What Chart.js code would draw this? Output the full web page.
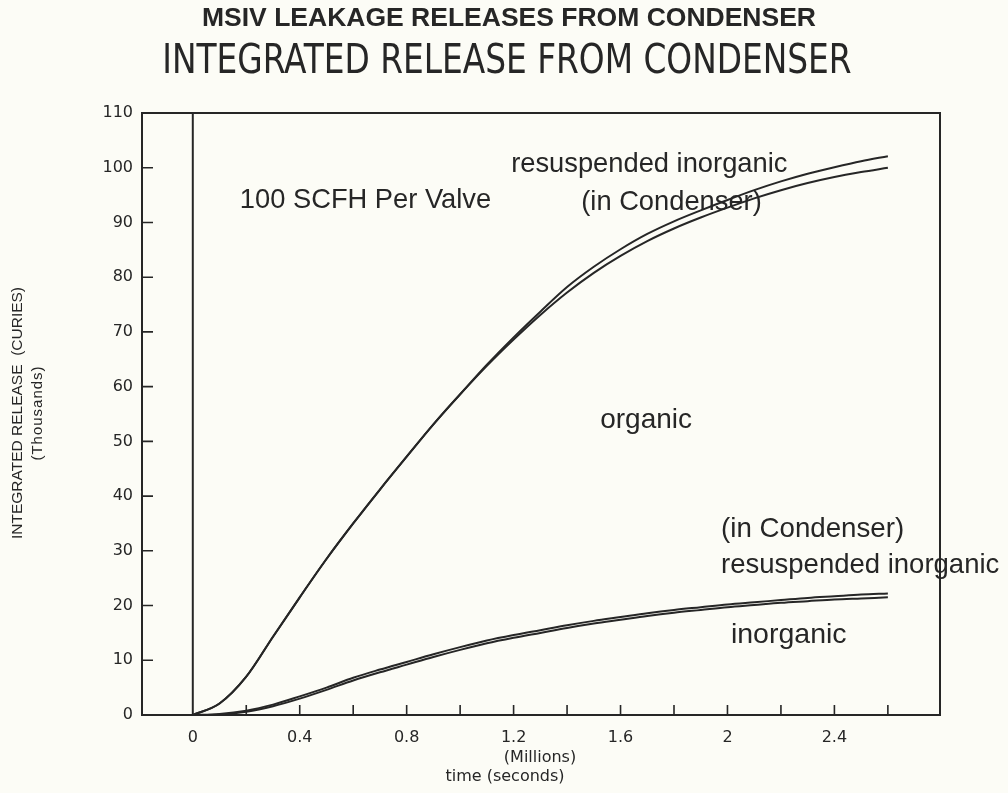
<!DOCTYPE html>
<html>
<head>
<meta charset="utf-8">
<script src="https://cdn.jsdelivr.net/npm/chart.js@4.4.1/dist/chart.umd.min.js"></script>
<style>
  html, body { margin: 0; padding: 0; background: #fcfcf6; }
  #wrap { width: 1008px; height: 793px; position: relative; }
</style>
</head>
<body>
<div id="wrap"><canvas id="c"></canvas></div>
<script>
// ---- data (time in millions of seconds, release in thousands of curies) ----
const timeMillions = [0, 0.1, 0.2, 0.3, 0.4, 0.5, 0.6, 0.7, 0.8, 0.9, 1.0, 1.1, 1.2, 1.3,
  1.4, 1.5, 1.6, 1.7, 1.8, 1.9, 2.0, 2.1, 2.2, 2.3, 2.4, 2.5, 2.6];
const organicWithResuspended = [0, 2.1, 7.0, 14.3, 21.5, 28.5, 35.0, 41.2, 47.2, 53.1, 58.6,
  64.0, 69.0, 73.7, 78.2, 81.9, 85.1, 87.9, 90.2, 92.2, 94.1, 95.9, 97.5, 98.9, 100.1, 101.2, 102.1];
const organic = [0, 2.1, 7.0, 14.3, 21.5, 28.5, 35.0, 41.2, 47.2, 53.1, 58.6,
  63.8, 68.6, 73.1, 77.2, 80.8, 83.9, 86.6, 88.9, 90.9, 92.7, 94.4, 95.9, 97.2, 98.3, 99.2, 100.0];
const inorganicWithResuspended = [0, 0.2, 0.8, 1.9, 3.4, 5.0, 6.8, 8.3, 9.7, 11.1, 12.4,
  13.6, 14.6, 15.5, 16.4, 17.2, 17.9, 18.6, 19.2, 19.7, 20.2, 20.6, 21.0, 21.4, 21.7, 22.0, 22.2];
const inorganic = [0, 0.1, 0.6, 1.6, 3.0, 4.6, 6.3, 7.8, 9.2, 10.6, 11.9,
  13.1, 14.1, 15.0, 15.9, 16.7, 17.4, 18.1, 18.7, 19.2, 19.7, 20.1, 20.5, 20.8, 21.1, 21.3, 21.5];

const xTickValues = [0, 0.2, 0.4, 0.6, 0.8, 1.0, 1.2, 1.4, 1.6, 1.8, 2.0, 2.2, 2.4, 2.6];
const xTickLabels = ['0', '', '0.4', '', '0.8', '', '1.2', '', '1.6', '', '2', '', '2.4', ''];
const yTickValues = [0, 10, 20, 30, 40, 50, 60, 70, 80, 90, 100, 110];

const titleMain = 'MSIV LEAKAGE RELEASES FROM CONDENSER';
const titleSub = 'INTEGRATED RELEASE FROM CONDENSER';
const yTitleLines = ['INTEGRATED RELEASE  (CURIES)', '(Thousands)'];
const xTitleLines = ['(Millions)', 'time (seconds)'];

// annotation texts, placed in data coordinates
const notes = [
  { text: '100 SCFH Per Valve', x: 0.176, y: 94.0, size: 27.3 },
  { text: 'resuspended inorganic', x: 1.191, y: 100.6, size: 27.3 },
  { text: '(in Condenser)', x: 1.453, y: 93.6, size: 27.3 },
  { text: 'organic', x: 1.524, y: 53.9, size: 28 },
  { text: '(in Condenser)', x: 1.976, y: 34.0, size: 27.7 },
  { text: 'resuspended inorganic', x: 1.976, y: 27.4, size: 27.5 },
  { text: 'inorganic', x: 2.013, y: 14.6, size: 28.5 }
];

const ink = '#262626';
const toPoints = (ys) => ys.map((v, i) => ({ x: timeMillions[i], y: v }));

const framePlugin = {
  id: 'frame',
  beforeDatasetsDraw(chart) {
    const { ctx, chartArea: a, scales: { x, y } } = chart;
    ctx.save();
    ctx.strokeStyle = ink;
    ctx.lineWidth = 2;
    ctx.strokeRect(a.left, a.top, a.right - a.left, a.bottom - a.top);
    const x0 = x.getPixelForValue(0);
    ctx.beginPath();
    ctx.moveTo(x0, a.top);
    ctx.lineTo(x0, a.bottom);
    ctx.stroke();
    ctx.lineWidth = 1.6;
    ctx.beginPath();
    xTickValues.forEach(v => {
      if (v === 0) return;
      const px = x.getPixelForValue(v);
      ctx.moveTo(px, a.bottom);
      ctx.lineTo(px, a.bottom - 10);
    });
    yTickValues.forEach(v => {
      if (v === 0 || v === 110) return;
      const py = y.getPixelForValue(v);
      ctx.moveTo(a.left, py);
      ctx.lineTo(a.left + 11, py);
    });
    ctx.stroke();
    ctx.restore();
  },
  afterDraw(chart) {
    const { ctx, chartArea: a, scales: { x, y } } = chart;
    ctx.save();
    ctx.fillStyle = ink;
    ctx.textBaseline = 'middle';
    // titles
    ctx.textAlign = 'center';
    ctx.font = 'bold 26.5px "Liberation Sans", Arial, sans-serif';
    ctx.fillText(titleMain, 509, 19);
    ctx.save();
    ctx.translate(507, 63);
    ctx.scale(0.912, 1);
    ctx.font = '200 40px "DejaVu Sans Condensed", "DejaVu Sans", sans-serif';
    ctx.fillText(titleSub, 0, 0);
    ctx.restore();
    // annotations
    ctx.textAlign = 'left';
    notes.forEach(n => {
      ctx.font = n.size + 'px "Liberation Sans", Arial, sans-serif';
      ctx.fillText(n.text, x.getPixelForValue(n.x), y.getPixelForValue(n.y));
    });
    // x axis title
    ctx.textAlign = 'center';
    ctx.font = '16px "DejaVu Sans", sans-serif';
    ctx.fillText(xTitleLines[0], 540, 758);
    ctx.fillText(xTitleLines[1], 505, 777);
    // y axis title
    const cy = (a.top + a.bottom) / 2 - 1;
    ctx.translate(18, cy);
    ctx.rotate(-Math.PI / 2);
    ctx.font = '15.5px "Liberation Sans", Arial, sans-serif';
    ctx.fillText(yTitleLines[0], 0, 0);
    ctx.font = '15px "Liberation Sans", Arial, sans-serif';
    ctx.letterSpacing = '1px';
    ctx.fillText(yTitleLines[1], 0, 20);
    ctx.restore();
  }
};

const lineStyle = { borderColor: ink, borderWidth: 2, pointRadius: 0, fill: false,
  cubicInterpolationMode: 'monotone' };

new Chart(document.getElementById('c'), {
  type: 'line',
  data: {
    datasets: [
      Object.assign({ label: 'resuspended inorganic (in Condenser)', data: toPoints(organicWithResuspended) }, lineStyle),
      Object.assign({ label: 'organic', data: toPoints(organic) }, lineStyle),
      Object.assign({ label: '(in Condenser) resuspended inorganic', data: toPoints(inorganicWithResuspended) }, lineStyle),
      Object.assign({ label: 'inorganic', data: toPoints(inorganic) }, lineStyle)
    ]
  },
  options: {
    responsive: true,
    maintainAspectRatio: false,
    animation: false,
    layout: { padding: { top: 113, right: 68, bottom: 0, left: 0 } },
    plugins: { legend: { display: false }, title: { display: false }, tooltip: { enabled: false } },
    scales: {
      x: {
        type: 'linear',
        min: -0.19,
        max: 2.795,
        grid: { display: false, drawTicks: false },
        border: { display: false },
        afterBuildTicks: (s) => { s.ticks = xTickValues.map(v => ({ value: v })); },
        afterFit: (s) => { s.height = 78; },
        ticks: {
          autoSkip: false,
          maxRotation: 0,
          padding: 13,
          color: ink,
          font: { family: '"DejaVu Sans", sans-serif', size: 16 },
          callback: (v, i) => xTickLabels[i]
        }
      },
      y: {
        type: 'linear',
        min: 0,
        max: 110,
        grid: { display: false, drawTicks: false },
        border: { display: false },
        afterBuildTicks: (s) => { s.ticks = yTickValues.map(v => ({ value: v })); },
        afterFit: (s) => { s.width = 142; },
        ticks: {
          padding: 9,
          color: ink,
          font: { family: '"DejaVu Sans", sans-serif', size: 16 },
          callback: (v) => String(v)
        }
      }
    }
  },
  plugins: [framePlugin]
});
</script>
</body>
</html>
